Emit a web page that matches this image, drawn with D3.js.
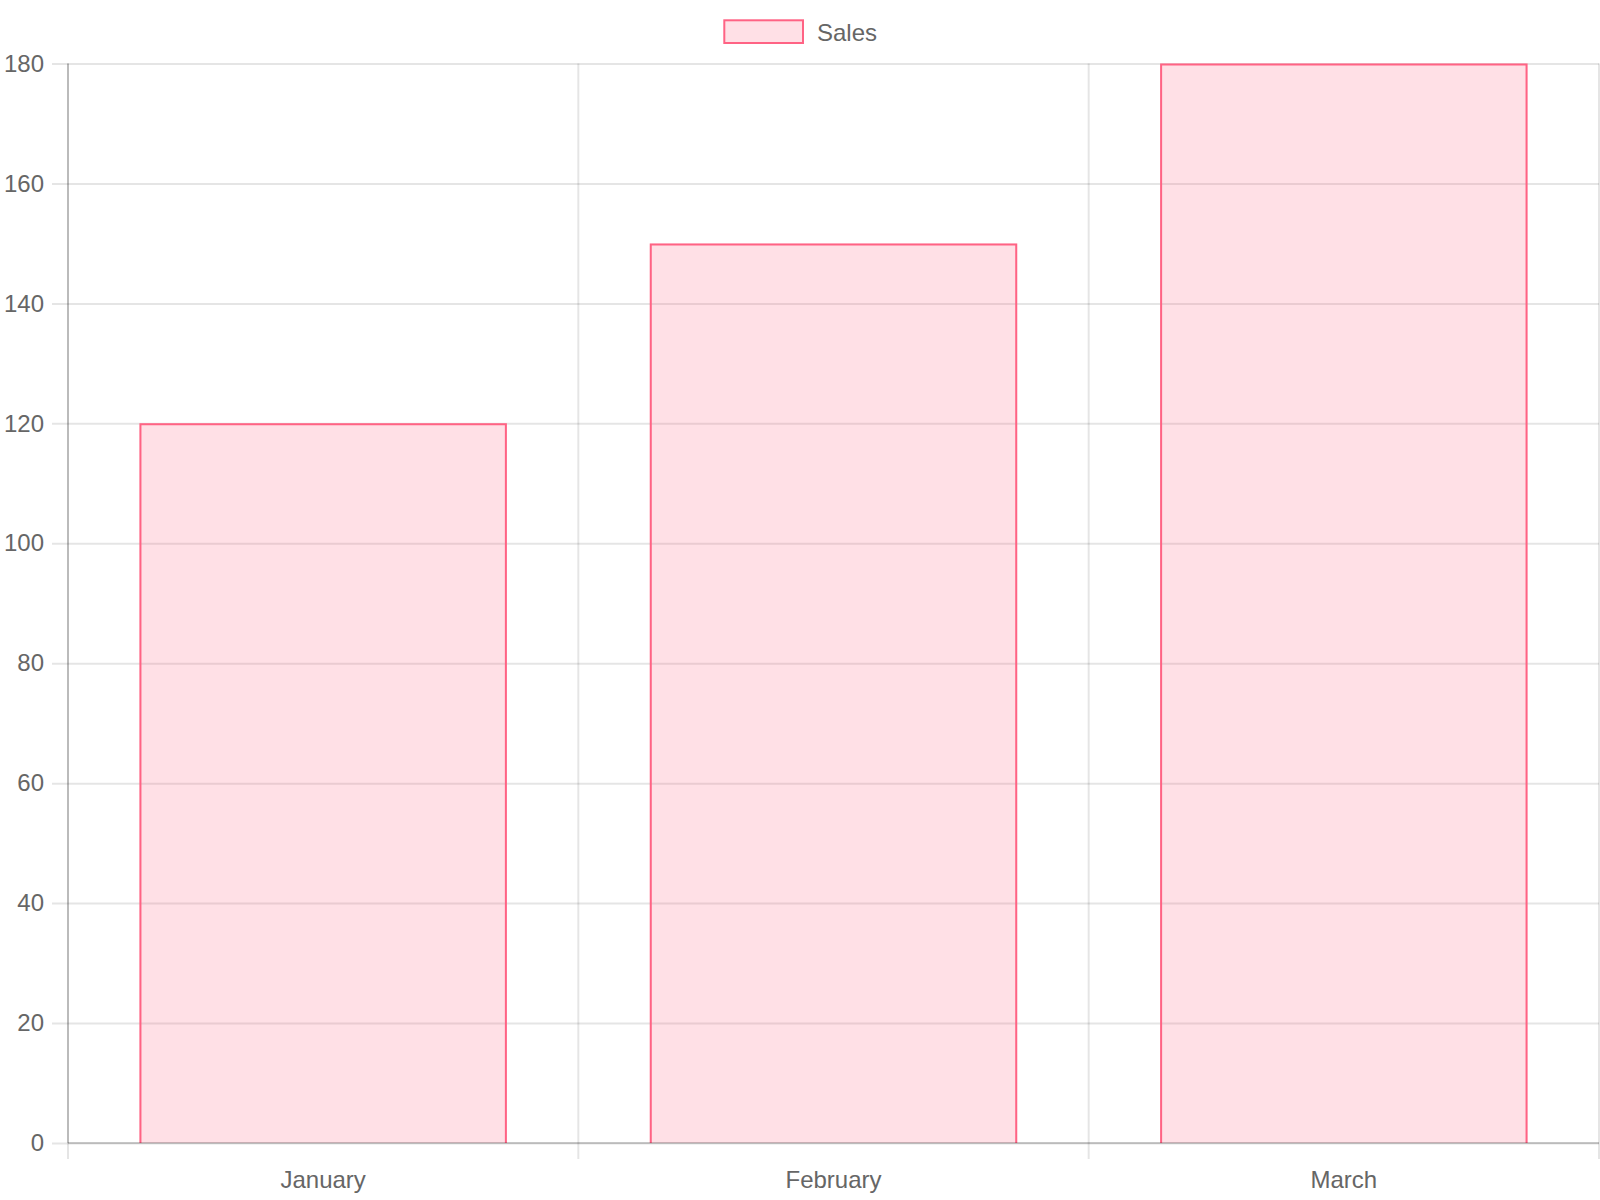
<!DOCTYPE html>
<html>
<head>
<meta charset="utf-8">
<script src="https://cdn.jsdelivr.net/npm/d3@7"></script>
<style>
  body { margin: 0; background: #fff; }
  text { font-family: "Liberation Sans", Arial, Helvetica, sans-serif; }
</style>
</head>
<body>
<div id="chart"></div>
<script>
// chart values
var months = ["January", "February", "March"];
var sales = [120, 150, 180];
var seriesName = "Sales";
var yTicks = [0, 20, 40, 60, 80, 100, 120, 140, 160, 180];

var width = 1600,
    height = 1200;
var area = {left: 68, right: 1599, top: 63.5, bottom: 1143};

var svg = d3.select("#chart")
  .append("svg")
    .attr("width", width)
    .attr("height", height);

var xScale = d3.scaleBand()
  .domain(months)
  .range([area.left, area.right]);
var yScale = d3.scaleLinear()
  .domain([0, 180])
  .range([area.bottom, area.top]);

var gridColor = "rgba(0,0,0,0.1)";
var textColor = "#666";

// horizontal grid + y labels
var yAxis = svg.append("g")
    .attr("transform", "translate(" + area.right + ",0)")
    .call(d3.axisLeft(yScale)
      .tickValues(yTicks)
      .tickSize(area.right - 52)
      .tickPadding(8));
yAxis.select(".domain").remove();
yAxis.selectAll(".tick line")
    .attr("stroke", gridColor)
    .attr("stroke-width", 2);
yAxis.selectAll(".tick text")
    .attr("fill", textColor)
    .style("font-size", "24px");

// vertical grid on category boundaries
var bounds = months.map(function(d) { return xScale(d); }).concat([xScale.range()[1]]);
svg.append("g").selectAll("line")
  .data(bounds)
  .enter()
  .append("line")
    .attr("x1", function(d) { return d; })
    .attr("x2", function(d) { return d; })
    .attr("y1", area.top)
    .attr("y2", area.bottom + 16)
    .attr("stroke", gridColor)
    .attr("stroke-width", 2);

// x labels
var xAxis = svg.append("g")
    .attr("transform", "translate(0," + area.bottom + ")")
    .call(d3.axisBottom(xScale).tickSize(0).tickPadding(28));
xAxis.select(".domain").remove();
xAxis.selectAll(".tick text")
    .attr("fill", textColor)
    .style("font-size", "24px");

// bars
var fill = "rgba(255,99,132,0.2)",
    stroke = "rgb(255,99,132)";
var barW = xScale.bandwidth() * 0.72;
var bars = svg.append("g").selectAll("g")
  .data(months.map(function(m, i) { return {month: m, value: sales[i]}; }))
  .enter()
  .append("g");

bars.append("rect")
    .attr("x", function(d) { return xScale(d.month) + xScale.bandwidth() / 2 - barW / 2; })
    .attr("y", function(d) { return yScale(d.value); })
    .attr("width", barW)
    .attr("height", function(d) { return yScale(0) - yScale(d.value); })
    .attr("fill", fill);

// border drawn inside, bottom skipped
bars.append("path")
    .attr("fill", "none")
    .attr("stroke", stroke)
    .attr("stroke-width", 2)
    .attr("d", function(d) {
      var x0 = xScale(d.month) + xScale.bandwidth() / 2 - barW / 2 + 1,
          x1 = x0 + barW - 2,
          t = yScale(d.value) + 1,
          b = yScale(0);
      return "M" + x0 + "," + b + "V" + t + "H" + x1 + "V" + b;
    });

// axis lines
svg.append("line")
    .attr("x1", area.left).attr("x2", area.left)
    .attr("y1", area.top).attr("y2", area.bottom)
    .attr("stroke", "rgba(0,0,0,0.18)")
    .attr("stroke-width", 2);
svg.append("line")
    .attr("x1", area.left).attr("x2", area.right)
    .attr("y1", area.bottom).attr("y2", area.bottom)
    .attr("stroke", "rgba(0,0,0,0.18)")
    .attr("stroke-width", 2);

// legend
var legend = svg.append("g");
legend.append("rect")
    .attr("x", 724.3)
    .attr("y", 20.3)
    .attr("width", 78.7)
    .attr("height", 22.7)
    .attr("fill", fill)
    .attr("stroke", stroke)
    .attr("stroke-width", 2);
legend.append("text")
    .attr("x", 817)
    .attr("y", 40.7)
    .attr("fill", textColor)
    .style("font-size", "24px")
    .text(seriesName);
</script>
</body>
</html>
